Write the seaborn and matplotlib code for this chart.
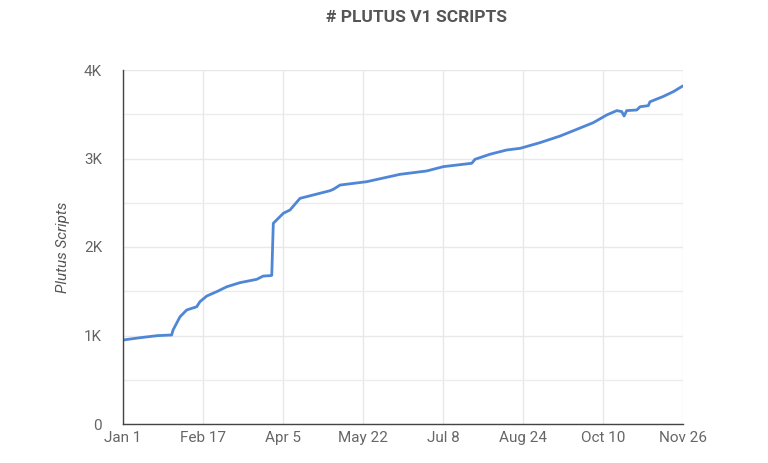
import matplotlib
matplotlib.use("Agg")
import matplotlib.pyplot as plt
import seaborn as sns
import pandas as pd

# Data: days since Jan 1 and cumulative Plutus V1 script counts
day_offsets = [0, 10, 20, 28.6, 29.4, 33.5, 37.4, 43.3, 45.2, 49.2, 55, 61, 68.7, 78.6,
               82.4, 86.4, 87.4, 88.3, 94.2, 98.1, 104, 111.8, 121.6, 123.6, 127.5,
               143.2, 162.7, 178.4, 188.2, 204.9, 206.8, 215.6, 225.4, 233.3, 245,
               256.8, 264.6, 276.3, 284.2, 290.1, 293, 294.4, 295.9, 301.8, 303.8,
               308.6, 309.6, 317.4, 323.3, 328.8]
script_counts = [949, 975, 998, 1006, 1062, 1212, 1288, 1325, 1382, 1446, 1495, 1551,
                 1597, 1635, 1672, 1676, 1680, 2268, 2381, 2418, 2550, 2588, 2636,
                 2652, 2700, 2738, 2821, 2859, 2908, 2946, 2991, 3048, 3096, 3115,
                 3179, 3254, 3314, 3405, 3492, 3541, 3530, 3480, 3541, 3548, 3585,
                 3597, 3641, 3701, 3755, 3819]
tick_labels = ["Jan 1", "Feb 17", "Apr 5", "May 22", "Jul 8", "Aug 24", "Oct 10", "Nov 26"]
tick_days = [0, 47, 94, 141, 188, 235, 282, 329]
y_ticks = [0, 1000, 2000, 3000, 4000]
y_tick_labels = ["0", "1K", "2K", "3K", "4K"]

base = pd.Timestamp("2022-01-01")
df = pd.DataFrame({
    "date": [base + pd.Timedelta(days=d) for d in day_offsets],
    "scripts": script_counts,
})

sns.set_theme(style="white")
plt.rcParams["font.family"] = ["Roboto", "DejaVu Sans"]

fig = plt.figure(figsize=(7.68, 4.63), dpi=100)
ax = fig.add_axes([123/768, 1 - 424/463, 560/768, 354/463])

sns.lineplot(data=df, x="date", y="scripts", ax=ax, color="#4f86d6", linewidth=2.0)

ax.set_xlim(base, base + pd.Timedelta(days=329))
ax.set_ylim(0, 4000)

tick_dates = [base + pd.Timedelta(days=d) for d in tick_days]
ax.set_xticks(tick_dates)
ax.set_xticklabels(tick_labels)
ax.set_yticks(y_ticks)
ax.set_yticklabels(y_tick_labels)
ax.set_yticks([500, 1500, 2500, 3500], minor=True)

ax.grid(True, which="major", color="#e8e8e8", linewidth=1.0)
ax.grid(True, which="minor", axis="y", color="#ececec", linewidth=1.0)
ax.set_axisbelow(True)

for s in ["top", "right"]:
    ax.spines[s].set_visible(False)
for s in ["left", "bottom"]:
    ax.spines[s].set_color("#444444")
    ax.spines[s].set_linewidth(1.0)

ax.tick_params(axis="both", which="both", length=0, labelsize=11, labelcolor="#666666")
ax.tick_params(axis="y", pad=15)
ax.tick_params(axis="x", pad=5)

ax.set_xlabel("")
ax.set_ylabel("Plutus Scripts", fontsize=11, style="italic", color="#555555", labelpad=10)

fig.text(417/768, 1 - 17/463, "# PLUTUS V1 SCRIPTS", ha="center", va="center",
         fontsize=12.5, fontweight="bold", color="#555555")

fig.savefig("out.png", dpi=100, facecolor="white")
